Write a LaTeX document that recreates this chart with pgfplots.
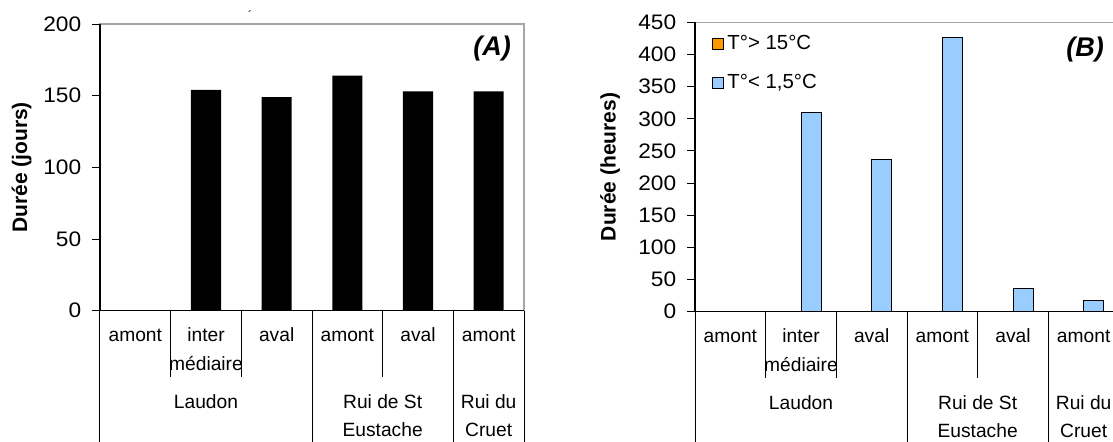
\documentclass[border=0pt]{standalone}
\usepackage{fontspec}
\setmainfont{Liberation Sans}
\usepackage{pgfplots}
\pgfplotsset{compat=1.18}

\definecolor{barblue}{RGB}{153,204,255}
\definecolor{barorange}{RGB}{255,153,0}

\newcommand{\lblfont}{\fontsize{9.6}{14.2}\selectfont}

\pgfplotsset{
  panel/.style={
    scale only axis, width=212pt,
    xmin=-0.5, xmax=5.5, ymin=0,
    xtick=\empty, ytick pos=left,
    clip=false,
    axis line style={gray!70, line width=0.6pt},
    ytick style={black, line width=0.5pt},
    tick align=outside, major tick length=4pt,
    yticklabel style={font=\fontsize{10.5}{12}\selectfont, xscale=1.08, xshift=-1.5pt},
    /pgf/number format/assume math mode=true,
    ylabel style={font=\bfseries\fontsize{10.5}{12}\selectfont, anchor=center},
  }
}

% category dividers and two-level labels under the x axis
\newcommand{\catlabels}{%
  \draw[black, line width=0.6pt] (axis description cs:0,1) -- (axis description cs:0,0) -- (axis description cs:1,0);
  \draw[black, line width=0.5pt] (axis cs:-0.5,0) -- ([yshift=-70pt]axis cs:-0.5,0);
  \draw[black, line width=0.5pt] (axis cs:0.5,0) -- ([yshift=-33.3pt]axis cs:0.5,0);
  \draw[black, line width=0.5pt] (axis cs:1.5,0) -- ([yshift=-33.3pt]axis cs:1.5,0);
  \draw[black, line width=0.5pt] (axis cs:2.5,0) -- ([yshift=-70pt]axis cs:2.5,0);
  \draw[black, line width=0.5pt] (axis cs:3.5,0) -- ([yshift=-33.3pt]axis cs:3.5,0);
  \draw[black, line width=0.5pt] (axis cs:4.5,0) -- ([yshift=-70pt]axis cs:4.5,0);
  \draw[black, line width=0.5pt] (axis cs:5.5,0) -- ([yshift=-70pt]axis cs:5.5,0);
  \node[font=\lblfont] at ([yshift=-12.2pt]axis cs:0,0) {amont};
  \node[font=\lblfont, align=center] at ([yshift=-19.2pt]axis cs:1,0) {inter\\médiaire};
  \node[font=\lblfont] at ([yshift=-12.2pt]axis cs:2,0) {aval};
  \node[font=\lblfont] at ([yshift=-12.2pt]axis cs:3,0) {amont};
  \node[font=\lblfont] at ([yshift=-12.2pt]axis cs:4,0) {aval};
  \node[font=\lblfont] at ([yshift=-12.2pt]axis cs:5,0) {amont};
  \node[font=\lblfont] at ([yshift=-45.5pt]axis cs:1,0) {Laudon};
  \node[font=\lblfont, align=center] at ([yshift=-52.6pt]axis cs:3.5,0) {Rui de St\\Eustache};
  \node[font=\lblfont, align=center] at ([yshift=-52.6pt]axis cs:5,0) {Rui du\\Cruet};
}

\begin{document}
\begin{tikzpicture}

% (A) durations in days
\begin{axis}[
    panel,
    at={(50pt,65.15pt)}, anchor=south west,
    height=143.35pt,
    ymax=200, ytick={0,50,...,200},
    ylabel={Durée (jours)},
    ylabel style={at={(axis description cs:-0.185,0.5)}},
    ybar, bar width=0.425,
]
\addplot[fill=black, draw=none] coordinates {
    (0,0) (1,154) (2,149) (3,164) (4,153) (5,153)
};
\catlabels
\node[anchor=east, font=\bfseries\itshape\fontsize{13.5}{15}\selectfont]
    at ([xshift=-3pt,yshift=-12.5pt]axis description cs:1,1) {(A)};
\end{axis}

% (B) durations in hours
\begin{axis}[
    panel,
    at={(347.5pt,64.65pt)}, anchor=south west,
    height=144.7pt,
    ymax=450, ytick={0,50,...,450},
    ylabel={Durée (heures)},
    ylabel style={at={(axis description cs:-0.2,0.5)}},
    ybar, bar width=0.283,
    legend style={at={(axis description cs:0,1)}, anchor=north west,
        xshift=8.5pt, yshift=-5pt, draw=none, fill=none,
        font=\fontsize{10.2}{11}\selectfont, row sep=7.5pt,
        inner sep=0pt, nodes={inner sep=1.5pt}},
    legend cell align=left,
    legend image code/.code={\draw[#1, draw=black, line width=0.5pt] (0pt,-2.75pt) rectangle (5.5pt,2.75pt);},
]
\addplot[fill=barorange, draw=black, line width=0.5pt, bar shift=-0.1415] coordinates {
    (0,0) (1,0) (2,0) (3,0) (4,0) (5,0)
};
\addlegendentry{T°> 15°C}
\addplot[fill=barblue, draw=black, line width=0.5pt, bar shift=0.1415] coordinates {
    (0,0) (1,310) (2,236) (3,427) (4,36) (5,17)
};
\addlegendentry{T°< 1,5°C}
\catlabels
\node[anchor=east, font=\bfseries\itshape\fontsize{13.5}{15}\selectfont]
    at ([xshift=-4pt,yshift=-13.5pt]axis description cs:1,1) {(B)};
\end{axis}

\node[font=\fontsize{6}{7}\selectfont] at (125pt,213pt) {´};

\pgfresetboundingbox
\path[use as bounding box] (0,0) rectangle (556.5pt,220.5pt);
\end{tikzpicture}
\end{document}
